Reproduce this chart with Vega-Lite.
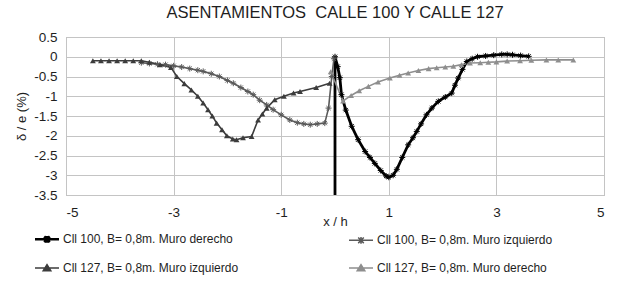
{
"$schema": "https://vega.github.io/schema/vega-lite/v6.json",
"width": 538, "height": 158,
"autosize": {"type": "none"},
"padding": {"left": 66, "top": 37, "right": 20, "bottom": 90},
"background": "white",
"title": {"text": "ASENTAMIENTOS\u00a0\u00a0CALLE 100 Y CALLE 127", "font": "Liberation Sans", "fontSize": 16.5, "fontWeight": "normal", "color": "#1e1e1e", "offset": 9},
"config": {"view": {"stroke": "#a8a8a8", "strokeWidth": 1}, "font": "Liberation Sans"},
"data": {"values": [
{"s":"Cll 100, B= 0,8m. Muro derecho","x":0,"y":-3.5},
{"s":"Cll 100, B= 0,8m. Muro derecho","x":0,"y":0},
{"s":"Cll 100, B= 0,8m. Muro derecho","x":0.05,"y":-0.25},
{"s":"Cll 100, B= 0,8m. Muro derecho","x":0.09,"y":-0.53},
{"s":"Cll 100, B= 0,8m. Muro derecho","x":0.12,"y":-0.96},
{"s":"Cll 100, B= 0,8m. Muro derecho","x":0.2,"y":-1.35},
{"s":"Cll 100, B= 0,8m. Muro derecho","x":0.31,"y":-1.76},
{"s":"Cll 100, B= 0,8m. Muro derecho","x":0.43,"y":-2.1},
{"s":"Cll 100, B= 0,8m. Muro derecho","x":0.56,"y":-2.4},
{"s":"Cll 100, B= 0,8m. Muro derecho","x":0.65,"y":-2.55},
{"s":"Cll 100, B= 0,8m. Muro derecho","x":0.74,"y":-2.7},
{"s":"Cll 100, B= 0,8m. Muro derecho","x":0.85,"y":-2.88},
{"s":"Cll 100, B= 0,8m. Muro derecho","x":0.95,"y":-3.02},
{"s":"Cll 100, B= 0,8m. Muro derecho","x":1.0,"y":-3.05},
{"s":"Cll 100, B= 0,8m. Muro derecho","x":1.08,"y":-3.0},
{"s":"Cll 100, B= 0,8m. Muro derecho","x":1.15,"y":-2.85},
{"s":"Cll 100, B= 0,8m. Muro derecho","x":1.25,"y":-2.55},
{"s":"Cll 100, B= 0,8m. Muro derecho","x":1.36,"y":-2.23},
{"s":"Cll 100, B= 0,8m. Muro derecho","x":1.45,"y":-2.05},
{"s":"Cll 100, B= 0,8m. Muro derecho","x":1.52,"y":-1.89},
{"s":"Cll 100, B= 0,8m. Muro derecho","x":1.6,"y":-1.7},
{"s":"Cll 100, B= 0,8m. Muro derecho","x":1.7,"y":-1.47},
{"s":"Cll 100, B= 0,8m. Muro derecho","x":1.8,"y":-1.3},
{"s":"Cll 100, B= 0,8m. Muro derecho","x":1.92,"y":-1.13},
{"s":"Cll 100, B= 0,8m. Muro derecho","x":2.05,"y":-1.02},
{"s":"Cll 100, B= 0,8m. Muro derecho","x":2.17,"y":-0.92},
{"s":"Cll 100, B= 0,8m. Muro derecho","x":2.23,"y":-0.72},
{"s":"Cll 100, B= 0,8m. Muro derecho","x":2.29,"y":-0.54},
{"s":"Cll 100, B= 0,8m. Muro derecho","x":2.37,"y":-0.32},
{"s":"Cll 100, B= 0,8m. Muro derecho","x":2.45,"y":-0.12},
{"s":"Cll 100, B= 0,8m. Muro derecho","x":2.55,"y":-0.05},
{"s":"Cll 100, B= 0,8m. Muro derecho","x":2.65,"y":0.0},
{"s":"Cll 100, B= 0,8m. Muro derecho","x":2.8,"y":0.02},
{"s":"Cll 100, B= 0,8m. Muro derecho","x":2.95,"y":0.04},
{"s":"Cll 100, B= 0,8m. Muro derecho","x":3.1,"y":0.06},
{"s":"Cll 100, B= 0,8m. Muro derecho","x":3.2,"y":0.06},
{"s":"Cll 100, B= 0,8m. Muro derecho","x":3.3,"y":0.05},
{"s":"Cll 100, B= 0,8m. Muro derecho","x":3.45,"y":0.03},
{"s":"Cll 100, B= 0,8m. Muro derecho","x":3.6,"y":0.01},
{"s":"Cll 100, B= 0,8m. Muro izquierdo","x":-3.6,"y":-0.15},
{"s":"Cll 100, B= 0,8m. Muro izquierdo","x":-3.45,"y":-0.17},
{"s":"Cll 100, B= 0,8m. Muro izquierdo","x":-3.3,"y":-0.19},
{"s":"Cll 100, B= 0,8m. Muro izquierdo","x":-3.15,"y":-0.2},
{"s":"Cll 100, B= 0,8m. Muro izquierdo","x":-3.0,"y":-0.23},
{"s":"Cll 100, B= 0,8m. Muro izquierdo","x":-2.85,"y":-0.26},
{"s":"Cll 100, B= 0,8m. Muro izquierdo","x":-2.7,"y":-0.3},
{"s":"Cll 100, B= 0,8m. Muro izquierdo","x":-2.55,"y":-0.34},
{"s":"Cll 100, B= 0,8m. Muro izquierdo","x":-2.45,"y":-0.37},
{"s":"Cll 100, B= 0,8m. Muro izquierdo","x":-2.3,"y":-0.43},
{"s":"Cll 100, B= 0,8m. Muro izquierdo","x":-2.15,"y":-0.5},
{"s":"Cll 100, B= 0,8m. Muro izquierdo","x":-2.0,"y":-0.6},
{"s":"Cll 100, B= 0,8m. Muro izquierdo","x":-1.89,"y":-0.67},
{"s":"Cll 100, B= 0,8m. Muro izquierdo","x":-1.75,"y":-0.78},
{"s":"Cll 100, B= 0,8m. Muro izquierdo","x":-1.62,"y":-0.88},
{"s":"Cll 100, B= 0,8m. Muro izquierdo","x":-1.52,"y":-0.96},
{"s":"Cll 100, B= 0,8m. Muro izquierdo","x":-1.4,"y":-1.1},
{"s":"Cll 100, B= 0,8m. Muro izquierdo","x":-1.27,"y":-1.22},
{"s":"Cll 100, B= 0,8m. Muro izquierdo","x":-1.15,"y":-1.34},
{"s":"Cll 100, B= 0,8m. Muro izquierdo","x":-1.0,"y":-1.47},
{"s":"Cll 100, B= 0,8m. Muro izquierdo","x":-0.84,"y":-1.6},
{"s":"Cll 100, B= 0,8m. Muro izquierdo","x":-0.7,"y":-1.67},
{"s":"Cll 100, B= 0,8m. Muro izquierdo","x":-0.58,"y":-1.7},
{"s":"Cll 100, B= 0,8m. Muro izquierdo","x":-0.46,"y":-1.72},
{"s":"Cll 100, B= 0,8m. Muro izquierdo","x":-0.33,"y":-1.7},
{"s":"Cll 100, B= 0,8m. Muro izquierdo","x":-0.19,"y":-1.68},
{"s":"Cll 100, B= 0,8m. Muro izquierdo","x":-0.12,"y":-1.3},
{"s":"Cll 100, B= 0,8m. Muro izquierdo","x":-0.06,"y":-0.5},
{"s":"Cll 100, B= 0,8m. Muro izquierdo","x":-0.02,"y":-0.05},
{"s":"Cll 127, B= 0,8m. Muro izquierdo","x":-4.5,"y":-0.1},
{"s":"Cll 127, B= 0,8m. Muro izquierdo","x":-4.35,"y":-0.1},
{"s":"Cll 127, B= 0,8m. Muro izquierdo","x":-4.2,"y":-0.1},
{"s":"Cll 127, B= 0,8m. Muro izquierdo","x":-4.05,"y":-0.1},
{"s":"Cll 127, B= 0,8m. Muro izquierdo","x":-3.9,"y":-0.1},
{"s":"Cll 127, B= 0,8m. Muro izquierdo","x":-3.75,"y":-0.1},
{"s":"Cll 127, B= 0,8m. Muro izquierdo","x":-3.6,"y":-0.1},
{"s":"Cll 127, B= 0,8m. Muro izquierdo","x":-3.45,"y":-0.14},
{"s":"Cll 127, B= 0,8m. Muro izquierdo","x":-3.25,"y":-0.2},
{"s":"Cll 127, B= 0,8m. Muro izquierdo","x":-3.05,"y":-0.27},
{"s":"Cll 127, B= 0,8m. Muro izquierdo","x":-2.94,"y":-0.5},
{"s":"Cll 127, B= 0,8m. Muro izquierdo","x":-2.8,"y":-0.68},
{"s":"Cll 127, B= 0,8m. Muro izquierdo","x":-2.67,"y":-0.84},
{"s":"Cll 127, B= 0,8m. Muro izquierdo","x":-2.55,"y":-1.0},
{"s":"Cll 127, B= 0,8m. Muro izquierdo","x":-2.45,"y":-1.17},
{"s":"Cll 127, B= 0,8m. Muro izquierdo","x":-2.36,"y":-1.34},
{"s":"Cll 127, B= 0,8m. Muro izquierdo","x":-2.28,"y":-1.5},
{"s":"Cll 127, B= 0,8m. Muro izquierdo","x":-2.2,"y":-1.68},
{"s":"Cll 127, B= 0,8m. Muro izquierdo","x":-2.1,"y":-1.85},
{"s":"Cll 127, B= 0,8m. Muro izquierdo","x":-2.01,"y":-2.0},
{"s":"Cll 127, B= 0,8m. Muro izquierdo","x":-1.9,"y":-2.08},
{"s":"Cll 127, B= 0,8m. Muro izquierdo","x":-1.83,"y":-2.1},
{"s":"Cll 127, B= 0,8m. Muro izquierdo","x":-1.71,"y":-2.05},
{"s":"Cll 127, B= 0,8m. Muro izquierdo","x":-1.55,"y":-2.02},
{"s":"Cll 127, B= 0,8m. Muro izquierdo","x":-1.43,"y":-1.6},
{"s":"Cll 127, B= 0,8m. Muro izquierdo","x":-1.35,"y":-1.45},
{"s":"Cll 127, B= 0,8m. Muro izquierdo","x":-1.27,"y":-1.3},
{"s":"Cll 127, B= 0,8m. Muro izquierdo","x":-1.12,"y":-1.09},
{"s":"Cll 127, B= 0,8m. Muro izquierdo","x":-0.95,"y":-1.0},
{"s":"Cll 127, B= 0,8m. Muro izquierdo","x":-0.77,"y":-0.92},
{"s":"Cll 127, B= 0,8m. Muro izquierdo","x":-0.65,"y":-0.88},
{"s":"Cll 127, B= 0,8m. Muro izquierdo","x":-0.35,"y":-0.78},
{"s":"Cll 127, B= 0,8m. Muro izquierdo","x":-0.1,"y":-0.67},
{"s":"Cll 127, B= 0,8m. Muro derecho","x":-0.08,"y":-0.38},
{"s":"Cll 127, B= 0,8m. Muro derecho","x":0.15,"y":-1.12},
{"s":"Cll 127, B= 0,8m. Muro derecho","x":0.3,"y":-0.98},
{"s":"Cll 127, B= 0,8m. Muro derecho","x":0.45,"y":-0.86},
{"s":"Cll 127, B= 0,8m. Muro derecho","x":0.62,"y":-0.75},
{"s":"Cll 127, B= 0,8m. Muro derecho","x":0.8,"y":-0.64},
{"s":"Cll 127, B= 0,8m. Muro derecho","x":1.02,"y":-0.54},
{"s":"Cll 127, B= 0,8m. Muro derecho","x":1.2,"y":-0.47},
{"s":"Cll 127, B= 0,8m. Muro derecho","x":1.36,"y":-0.41},
{"s":"Cll 127, B= 0,8m. Muro derecho","x":1.55,"y":-0.35},
{"s":"Cll 127, B= 0,8m. Muro derecho","x":1.74,"y":-0.3},
{"s":"Cll 127, B= 0,8m. Muro derecho","x":1.89,"y":-0.28},
{"s":"Cll 127, B= 0,8m. Muro derecho","x":2.05,"y":-0.26},
{"s":"Cll 127, B= 0,8m. Muro derecho","x":2.2,"y":-0.24},
{"s":"Cll 127, B= 0,8m. Muro derecho","x":2.35,"y":-0.2},
{"s":"Cll 127, B= 0,8m. Muro derecho","x":2.51,"y":-0.16},
{"s":"Cll 127, B= 0,8m. Muro derecho","x":2.7,"y":-0.15},
{"s":"Cll 127, B= 0,8m. Muro derecho","x":2.85,"y":-0.14},
{"s":"Cll 127, B= 0,8m. Muro derecho","x":3.0,"y":-0.13},
{"s":"Cll 127, B= 0,8m. Muro derecho","x":3.2,"y":-0.11},
{"s":"Cll 127, B= 0,8m. Muro derecho","x":3.44,"y":-0.1},
{"s":"Cll 127, B= 0,8m. Muro derecho","x":3.65,"y":-0.09},
{"s":"Cll 127, B= 0,8m. Muro derecho","x":3.93,"y":-0.08},
{"s":"Cll 127, B= 0,8m. Muro derecho","x":4.15,"y":-0.08},
{"s":"Cll 127, B= 0,8m. Muro derecho","x":4.43,"y":-0.08}
]},
"encoding": {
  "x": {"field": "x", "type": "quantitative", "scale": {"domain": [-5, 5], "nice": false},
    "axis": {"values": [-5, -3, -1, 1, 3, 5], "title": "x / h", "titleFont": "Liberation Sans", "titleFontSize": 13, "titleFontWeight": "normal", "titleColor": "#1e1e1e", "titlePadding": -3,
      "labelFont": "Liberation Sans", "labelFontSize": 13.5, "labelColor": "#1e1e1e", "labelPadding": 10, "ticks": false, "domain": false, "grid": true, "gridColor": "#c4c4c4",
      "labelExpr": "datum.value < 0 ? '-' + format(-datum.value, '~g') : format(datum.value, '~g')"}},
  "y": {"field": "y", "type": "quantitative", "scale": {"domain": [-3.5, 0.5], "nice": false},
    "axis": {"values": [-3.5, -3, -2.5, -2, -1.5, -1, -0.5, 0, 0.5], "title": "δ / e (%)", "titleFont": "Liberation Sans", "titleFontSize": 13, "titleFontWeight": "normal", "titleColor": "#1e1e1e", "titlePadding": 5,
      "labelFont": "Liberation Sans", "labelFontSize": 13.5, "labelColor": "#1e1e1e", "labelPadding": 9, "ticks": false, "domain": false, "grid": true, "gridColor": "#c4c4c4",
      "labelExpr": "datum.value < 0 ? '-' + format(-datum.value, '~g') : format(datum.value, '~g')"}},
  "color": {"field": "s", "type": "nominal", "legend": null,
    "scale": {"domain": ["Cll 100, B= 0,8m. Muro derecho", "Cll 100, B= 0,8m. Muro izquierdo", "Cll 127, B= 0,8m. Muro izquierdo", "Cll 127, B= 0,8m. Muro derecho"], "range": ["#000000", "#5a5a5a", "#3c3c3c", "#8e8e8e"]}}
},
"layer": [
  {"mark": {"type": "line", "clip": true},
   "encoding": {
     "order": {"value": null},
     "color": {"field": "s", "type": "nominal",
       "legend": {"orient": "none", "legendX": -25, "legendY": 196, "columns": 2, "title": null, "direction": "horizontal", "labelLimit": 400,
         "labelFont": "Liberation Sans", "labelFontSize": 12, "labelColor": "#1e1e1e", "symbolSize": 64, "columnPadding": 107, "rowPadding": 13, "labelOffset": 10,
         "encode": {"symbols": {"update": {
           "shape": {"signal": "indexof(datum.value, 'Cll 100') === 0 ? 'M-3,0L3,0M-0.7,-0.7L0.7,0.7M-0.7,0.7L0.7,-0.7M0,-0.85L0,0.85' : 'M-3,0L3,0M0,-0.85L0.95,0.7L-0.95,0.7Z'"},
           "fill": {"scale": "color", "field": "value"},
           "stroke": {"scale": "color", "field": "value"},
           "strokeWidth": {"signal": "datum.value === 'Cll 100, B= 0,8m. Muro derecho' ? 2.5 : 1.5"},
           "opacity": {"value": 1}
         }}}}},
     "strokeWidth": {"condition": {"test": "datum.s === 'Cll 100, B= 0,8m. Muro derecho'", "value": 2.8}, "value": 1.6}
   }},
  {"transform": [{"filter": "datum.y > -3.4 && indexof(datum.s, 'Cll 100') === 0"}],
   "mark": {"type": "point", "filled": false, "strokeWidth": 1, "opacity": 1, "size": 36,
     "shape": "M-1,0L1,0M0,-1L0,1M-0.7,-0.7L0.7,0.7M-0.7,0.7L0.7,-0.7"}},
  {"transform": [{"filter": "indexof(datum.s, 'Cll 127') === 0"}],
   "mark": {"type": "point", "filled": true, "opacity": 1, "size": 34, "shape": "triangle-up"}}
]
}
